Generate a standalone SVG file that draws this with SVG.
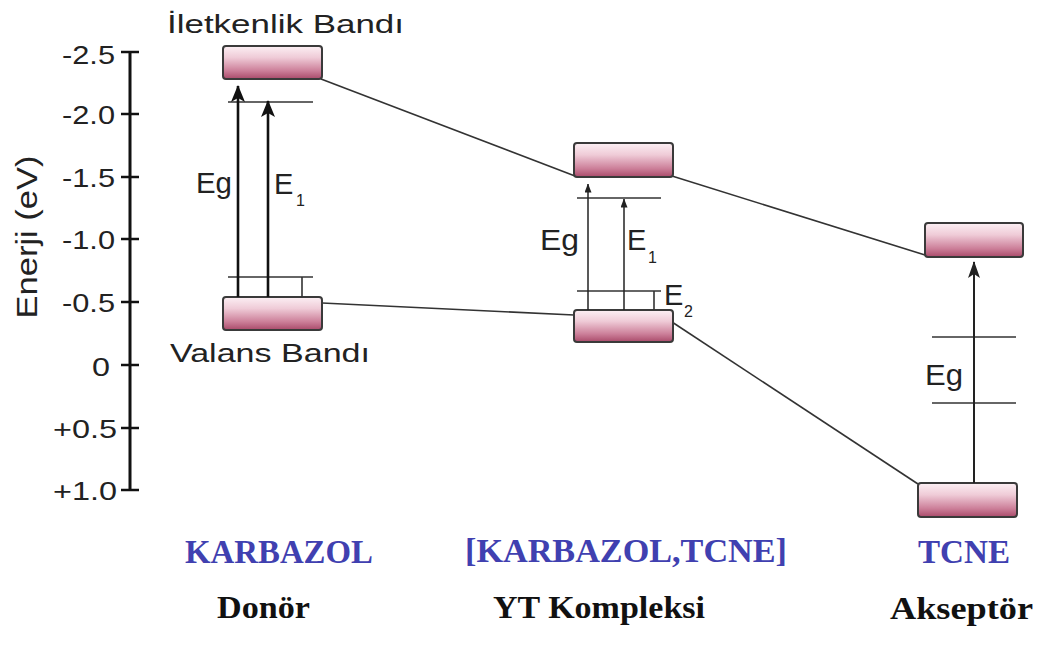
<svg xmlns="http://www.w3.org/2000/svg" width="1041" height="645" viewBox="0 0 1041 645">
<defs>
<linearGradient id="band" x1="0" y1="0" x2="0" y2="1">
<stop offset="0" stop-color="#fcf0f4"/>
<stop offset="0.35" stop-color="#efcbd7"/>
<stop offset="0.75" stop-color="#cc7f99"/>
<stop offset="1" stop-color="#a94a6a"/>
</linearGradient>
<marker id="ahBig" viewBox="0 0 17 14" refX="16" refY="7" markerWidth="17" markerHeight="14" markerUnits="userSpaceOnUse" orient="auto">
<path d="M0,0 L17,7 L0,14 L4,7 Z" fill="#111"/>
</marker>
<marker id="ahMid" viewBox="0 0 17 12" refX="16" refY="6" markerWidth="17" markerHeight="12" markerUnits="userSpaceOnUse" orient="auto">
<path d="M0,0 L17,6 L0,12 L4,6 Z" fill="#222"/>
</marker>
<marker id="ahSmall" viewBox="0 0 9 7" refX="8.5" refY="3.5" markerWidth="9" markerHeight="7" markerUnits="userSpaceOnUse" orient="auto">
<path d="M0,0 L9,3.5 L0,7 Z" fill="#222"/>
</marker>
</defs>
<style>
.band{fill:url(#band);stroke:#3a3a3a;stroke-width:2}
.conn{stroke:#333;stroke-width:1.6;fill:none}
.lvl{stroke:#333;stroke-width:1.6;fill:none}
.axis{stroke:#111;stroke-width:3;fill:none}
.tick{stroke:#111;stroke-width:2.5}
.sans{font-family:"Liberation Sans",Arial,sans-serif;fill:#222}
.tl{font-size:25px}
.lab{font-size:26px}
.eg{font-size:29px}
.sub{font-size:16px}
.mol{font-family:"Liberation Serif","Times New Roman",serif;font-weight:bold;font-size:33px;fill:#4040b0}
.role{font-family:"Liberation Serif","Times New Roman",serif;font-weight:bold;font-size:31px;fill:#111}
</style>
<rect width="1041" height="645" fill="#ffffff"/>

<g id="axis">
<line class="axis" x1="130" y1="52" x2="130" y2="491"/>
<g class="tick">
<line x1="121" y1="52" x2="139" y2="52"/>
<line x1="121" y1="114" x2="139" y2="114"/>
<line x1="121" y1="177" x2="139" y2="177"/>
<line x1="121" y1="239" x2="139" y2="239"/>
<line x1="121" y1="302" x2="139" y2="302"/>
<line x1="121" y1="365" x2="139" y2="365"/>
<line x1="121" y1="428" x2="139" y2="428"/>
<line x1="121" y1="490" x2="139" y2="490"/>
</g>
<g class="sans tl">
<text x="62" y="64" textLength="53" lengthAdjust="spacingAndGlyphs">-2.5</text>
<text x="62" y="124" textLength="53" lengthAdjust="spacingAndGlyphs">-2.0</text>
<text x="62" y="187" textLength="53" lengthAdjust="spacingAndGlyphs">-1.5</text>
<text x="62" y="249" textLength="53" lengthAdjust="spacingAndGlyphs">-1.0</text>
<text x="62" y="312" textLength="53" lengthAdjust="spacingAndGlyphs">-0.5</text>
<text x="92" y="376" textLength="18" lengthAdjust="spacingAndGlyphs">0</text>
<text x="53" y="438" textLength="64" lengthAdjust="spacingAndGlyphs">+0.5</text>
<text x="53" y="500" textLength="64" lengthAdjust="spacingAndGlyphs">+1.0</text>
</g>
<text class="sans" font-size="30" transform="translate(37,237) rotate(-90)" text-anchor="middle" textLength="163" lengthAdjust="spacingAndGlyphs">Enerji (eV)</text>
</g>

<g id="connectors">
<line class="conn" x1="321" y1="79" x2="575" y2="176"/>
<line class="conn" x1="672" y1="176" x2="925" y2="255"/>
<line class="conn" x1="322" y1="303" x2="574" y2="315"/>
<line class="conn" x1="672" y1="322" x2="918" y2="484"/>
</g>

<g id="donor-conduction-band">
<rect class="band" x="223" y="46" width="99" height="33" rx="3"/>
<text class="sans lab" x="167" y="33" textLength="237" lengthAdjust="spacingAndGlyphs">İletkenlik Bandı</text>
</g>
<g id="donor-valence-band">
<rect class="band" x="223" y="297" width="99" height="33" rx="3"/>
<text class="sans lab" x="170" y="362" textLength="200" lengthAdjust="spacingAndGlyphs">Valans Bandı</text>
</g>
<g id="donor-transitions">
<line class="lvl" x1="228" y1="102" x2="313" y2="102"/>
<line class="lvl" x1="228" y1="277" x2="313" y2="277"/>
<line class="lvl" x1="302" y1="277" x2="302" y2="297"/>
<line x1="238" y1="297" x2="238" y2="86" stroke="#111" stroke-width="2.6" marker-end="url(#ahBig)"/>
<line x1="268" y1="297" x2="268" y2="101" stroke="#111" stroke-width="2.6" marker-end="url(#ahBig)"/>
<text class="sans eg" x="196" y="193" textLength="36" lengthAdjust="spacingAndGlyphs">Eg</text>
<text class="sans eg" x="274" y="194">E</text>
<text class="sans sub" x="296" y="206">1</text>
</g>

<g id="complex-conduction-band">
<rect class="band" x="574" y="143" width="99" height="34" rx="3"/>
</g>
<g id="complex-valence-band">
<rect class="band" x="574" y="310" width="99" height="32" rx="3"/>
</g>
<g id="complex-transitions">
<line class="lvl" x1="577" y1="198" x2="661" y2="198"/>
<line class="lvl" x1="577" y1="291" x2="661" y2="291"/>
<line class="lvl" x1="654" y1="291" x2="654" y2="310"/>
<line x1="588" y1="310" x2="588" y2="184" stroke="#222" stroke-width="1.5" marker-end="url(#ahSmall)"/>
<line x1="624" y1="310" x2="624" y2="199" stroke="#222" stroke-width="1.5" marker-end="url(#ahSmall)"/>
<text class="sans eg" x="540" y="250" textLength="39" lengthAdjust="spacingAndGlyphs">Eg</text>
<text class="sans eg" x="627" y="250">E</text>
<text class="sans sub" x="648" y="263">1</text>
<text class="sans eg" x="664" y="305">E</text>
<text class="sans sub" x="684" y="317" font-size="18">2</text>
</g>

<g id="acceptor-conduction-band">
<rect class="band" x="925" y="223" width="98" height="34" rx="3"/>
</g>
<g id="acceptor-valence-band">
<rect class="band" x="918" y="483" width="99" height="34" rx="3"/>
</g>
<g id="acceptor-transitions">
<line class="lvl" x1="932" y1="337" x2="1016" y2="337"/>
<line class="lvl" x1="932" y1="403" x2="1016" y2="403"/>
<line x1="974" y1="483" x2="974" y2="262" stroke="#222" stroke-width="2" marker-end="url(#ahMid)"/>
<text class="sans eg" x="925" y="385" textLength="38" lengthAdjust="spacingAndGlyphs">Eg</text>
</g>

<g id="molecule-labels">
<text class="mol" x="185" y="563" textLength="188" lengthAdjust="spacingAndGlyphs">KARBAZOL</text>
<text class="mol" x="465" y="562" textLength="322" lengthAdjust="spacingAndGlyphs">[KARBAZOL,TCNE]</text>
<text class="mol" x="918" y="563" textLength="92" lengthAdjust="spacingAndGlyphs">TCNE</text>
</g>
<g id="role-labels">
<text class="role" x="217" y="618" textLength="93" lengthAdjust="spacingAndGlyphs">Donör</text>
<text class="role" x="493" y="618" textLength="212" lengthAdjust="spacingAndGlyphs">YT Kompleksi</text>
<text class="role" x="890" y="619" textLength="143" lengthAdjust="spacingAndGlyphs">Akseptör</text>
</g>
</svg>
